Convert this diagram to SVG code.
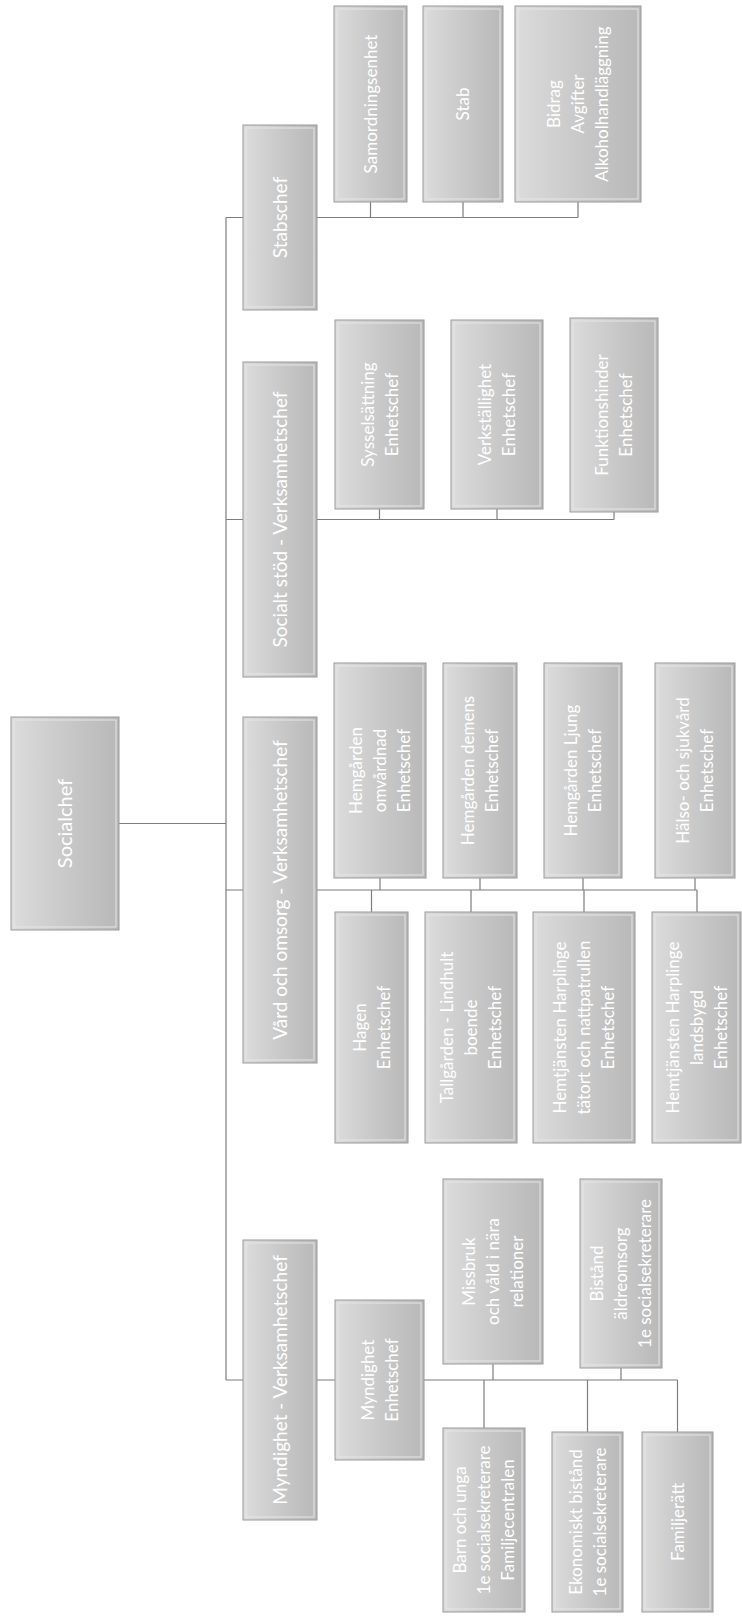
<svg xmlns="http://www.w3.org/2000/svg" width="742" height="1616" viewBox="0 0 742 1616">
<defs>
<linearGradient id="g" x1="0" y1="0" x2="1" y2="0">
<stop offset="0" stop-color="#dcdcdc"/>
<stop offset="0.5" stop-color="#c9c9c9"/>
<stop offset="1" stop-color="#b8b8b8"/>
</linearGradient>
<style>
.b{fill:url(#g);stroke:#9a9a9a;stroke-width:1}
.i{fill:none;stroke:#e6e6e6;stroke-width:1}
.t{font-family:Lato,"Open Sans","Liberation Sans",sans-serif;fill:#ffffff;text-anchor:middle}
.l1{font-size:20px}
.l2{font-size:19px}
.l3{font-size:17px}
.c{fill:none;stroke:#7d7d7d;stroke-width:1.2}
</style>
</defs>
<rect width="742" height="1616" fill="#ffffff"/>

<g id="connectors">
<path class="c" d="M119 823.5H226M226 217.5V1380M226 217.5H243M226 519.5H243M226 890H243M226 1380H243"/>
<path class="c" d="M317 217.5H578M370.5 202V217.5M463 202V217.5M578 202V217.5"/>
<path class="c" d="M317 519.5H614M379.5 509V519.5M497 509V519.5M614 512V519.5"/>
<path class="c" d="M317 890H697M380 878V890M480 878V890M583 878V890M695 878V890M371.5 890V912M471 890V912M584 890V912M697 890V912"/>
<path class="c" d="M317 1380H335M424 1380H677.5M493 1364V1380M621 1368V1380M484 1380V1428M587.5 1380V1432M677.5 1380V1432"/>
</g>

<g id="socialchef"><rect class="b" x="11" y="717" width="108" height="213"/><rect class="i" x="14" y="720" width="102" height="207"/>
<text class="t l1" transform="translate(65,823.5) rotate(-90)"><tspan x="0" y="7">Socialchef</tspan></text></g>

<g id="stabschef"><rect class="b" x="243" y="125" width="74" height="185"/><rect class="i" x="246" y="128" width="68" height="179"/>
<text class="t l2" transform="translate(280,217.5) rotate(-90)"><tspan x="0" y="7">Stabschef</tspan></text></g>

<g id="socialt-stod"><rect class="b" x="243" y="362" width="74" height="315"/><rect class="i" x="246" y="365" width="68" height="309"/>
<text class="t l2" transform="translate(280,519.5) rotate(-90)"><tspan x="0" y="7">Socialt stöd - Verksamhetschef</tspan></text></g>

<g id="vard-omsorg"><rect class="b" x="243" y="717" width="74" height="346"/><rect class="i" x="246" y="720" width="68" height="340"/>
<text class="t l2" transform="translate(280,890) rotate(-90)"><tspan x="0" y="7">Vård och omsorg - Verksamhetschef</tspan></text></g>

<g id="myndighet-vc"><rect class="b" x="243" y="1240" width="74" height="280"/><rect class="i" x="246" y="1243" width="68" height="274"/>
<text class="t l2" transform="translate(280,1380) rotate(-90)"><tspan x="0" y="7">Myndighet - Verksamhetschef</tspan></text></g>

<g id="samordning"><rect class="b" x="334" y="6" width="73" height="196"/><rect class="i" x="337" y="9" width="67" height="190"/>
<text class="t l3" transform="translate(370.5,104) rotate(-90)"><tspan x="0" y="6">Samordningsenhet</tspan></text></g>

<g id="stab"><rect class="b" x="423" y="6" width="80" height="196"/><rect class="i" x="426" y="9" width="74" height="190"/>
<text class="t l3" transform="translate(463,104) rotate(-90)"><tspan x="0" y="6">Stab</tspan></text></g>

<g id="bidrag"><rect class="b" x="515" y="6" width="126" height="196"/><rect class="i" x="518" y="9" width="120" height="190"/>
<text class="t l3" transform="translate(578,104) rotate(-90)"><tspan x="0" y="-18">Bidrag</tspan><tspan x="0" y="6">Avgifter</tspan><tspan x="0" y="30">Alkoholhandläggning</tspan></text></g>

<g id="sysselsattning"><rect class="b" x="335" y="320" width="89" height="189"/><rect class="i" x="338" y="323" width="83" height="183"/>
<text class="t l3" transform="translate(379.5,414.5) rotate(-90)"><tspan x="0" y="-6">Sysselsättning</tspan><tspan x="0" y="18">Enhetschef</tspan></text></g>

<g id="verkstallighet"><rect class="b" x="451" y="320" width="92" height="189"/><rect class="i" x="454" y="323" width="86" height="183"/>
<text class="t l3" transform="translate(497,414.5) rotate(-90)"><tspan x="0" y="-6">Verkställighet</tspan><tspan x="0" y="18">Enhetschef</tspan></text></g>

<g id="funktionshinder"><rect class="b" x="570" y="318" width="88" height="194"/><rect class="i" x="573" y="321" width="82" height="188"/>
<text class="t l3" transform="translate(614,415) rotate(-90)"><tspan x="0" y="-6">Funktionshinder</tspan><tspan x="0" y="18">Enhetschef</tspan></text></g>

<g id="hemgarden-omvardnad"><rect class="b" x="334" y="663" width="92" height="215"/><rect class="i" x="337" y="666" width="86" height="209"/>
<text class="t l3" transform="translate(380,770.5) rotate(-90)"><tspan x="0" y="-18">Hemgården</tspan><tspan x="0" y="6">omvårdnad</tspan><tspan x="0" y="30">Enhetschef</tspan></text></g>

<g id="hemgarden-demens"><rect class="b" x="443" y="663" width="74" height="215"/><rect class="i" x="446" y="666" width="68" height="209"/>
<text class="t l3" transform="translate(480,770.5) rotate(-90)"><tspan x="0" y="-6">Hemgården demens</tspan><tspan x="0" y="18">Enhetschef</tspan></text></g>

<g id="hemgarden-ljung"><rect class="b" x="544" y="663" width="78" height="215"/><rect class="i" x="547" y="666" width="72" height="209"/>
<text class="t l3" transform="translate(583,770.5) rotate(-90)"><tspan x="0" y="-6">Hemgården Ljung</tspan><tspan x="0" y="18">Enhetschef</tspan></text></g>

<g id="halso-sjukvard"><rect class="b" x="655" y="663" width="80" height="215"/><rect class="i" x="658" y="666" width="74" height="209"/>
<text class="t l3" transform="translate(695,770.5) rotate(-90)"><tspan x="0" y="-6">Hälso- och sjukvård</tspan><tspan x="0" y="18">Enhetschef</tspan></text></g>

<g id="hagen"><rect class="b" x="335" y="912" width="73" height="231"/><rect class="i" x="338" y="915" width="67" height="225"/>
<text class="t l3" transform="translate(371.5,1027.5) rotate(-90)"><tspan x="0" y="-6">Hagen</tspan><tspan x="0" y="18">Enhetschef</tspan></text></g>

<g id="tallgarden"><rect class="b" x="425" y="912" width="92" height="231"/><rect class="i" x="428" y="915" width="86" height="225"/>
<text class="t l3" transform="translate(471,1027.5) rotate(-90)"><tspan x="0" y="-18">Tallgården - Lindhult</tspan><tspan x="0" y="6">boende</tspan><tspan x="0" y="30">Enhetschef</tspan></text></g>

<g id="hemtjanst-tatort"><rect class="b" x="533" y="912" width="102" height="231"/><rect class="i" x="536" y="915" width="96" height="225"/>
<text class="t l3" transform="translate(584,1027.5) rotate(-90)"><tspan x="0" y="-18">Hemtjänsten Harplinge</tspan><tspan x="0" y="6">tätort och nattpatrullen</tspan><tspan x="0" y="30">Enhetschef</tspan></text></g>

<g id="hemtjanst-landsbygd"><rect class="b" x="652" y="912" width="89" height="231"/><rect class="i" x="655" y="915" width="83" height="225"/>
<text class="t l3" transform="translate(697,1027.5) rotate(-90)"><tspan x="0" y="-18">Hemtjänsten Harplinge</tspan><tspan x="0" y="6">landsbygd</tspan><tspan x="0" y="30">Enhetschef</tspan></text></g>

<g id="myndighet-ec"><rect class="b" x="335" y="1300" width="89" height="160"/><rect class="i" x="338" y="1303" width="83" height="154"/>
<text class="t l3" transform="translate(379.5,1380) rotate(-90)"><tspan x="0" y="-6">Myndighet</tspan><tspan x="0" y="18">Enhetschef</tspan></text></g>

<g id="vald-nara"><rect class="b" x="443" y="1179" width="100" height="185"/><rect class="i" x="446" y="1182" width="94" height="179"/>
<text class="t l3" transform="translate(493,1271.5) rotate(-90)"><tspan x="0" y="-18">Missbruk</tspan><tspan x="0" y="6">och våld i nära</tspan><tspan x="0" y="30">relationer</tspan></text></g>

<g id="aldreomsorg"><rect class="b" x="580" y="1179" width="82" height="189"/><rect class="i" x="583" y="1182" width="76" height="183"/>
<text class="t l3" transform="translate(621,1273.5) rotate(-90)"><tspan x="0" y="-18">Bistånd</tspan><tspan x="0" y="6">äldreomsorg</tspan><tspan x="0" y="30">1e socialsekreterare</tspan></text></g>

<g id="familjecentralen"><rect class="b" x="443" y="1428" width="82" height="184"/><rect class="i" x="446" y="1431" width="76" height="178"/>
<text class="t l3" transform="translate(484,1520) rotate(-90)"><tspan x="0" y="-18">Barn och unga</tspan><tspan x="0" y="6">1e socialsekreterare</tspan><tspan x="0" y="30">Familjecentralen</tspan></text></g>

<g id="ekonomiskt"><rect class="b" x="552" y="1432" width="71" height="180"/><rect class="i" x="555" y="1435" width="65" height="174"/>
<text class="t l3" transform="translate(587.5,1522) rotate(-90)"><tspan x="0" y="-6">Ekonomiskt bistånd</tspan><tspan x="0" y="18">1e socialsekreterare</tspan></text></g>

<g id="familjeratt"><rect class="b" x="642" y="1432" width="71" height="180"/><rect class="i" x="645" y="1435" width="65" height="174"/>
<text class="t l3" transform="translate(677.5,1522) rotate(-90)"><tspan x="0" y="6">Familjerätt</tspan></text></g>
</svg>
